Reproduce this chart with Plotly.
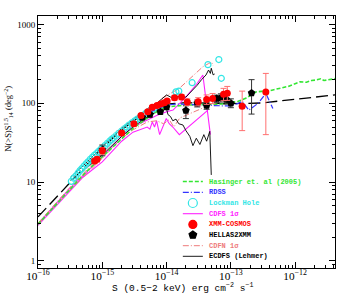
import plotly.graph_objects as go

# ---------------- data ----------------
# Hasinger et al. (2005)
has_flux = [1e-16, 2e-16, 3e-16, 5e-16, 7e-16, 1e-15, 1.5e-15, 2e-15, 3e-15, 4e-15, 5e-15, 7e-15,
            1e-14, 1.5e-14, 2e-14, 3e-14, 5e-14, 7e-14, 1e-13, 1.3e-13, 1.7e-13, 2e-13, 2.5e-13,
            3e-13, 3.5e-13, 4.5e-13, 6e-13, 8e-13, 1e-12, 1.2e-12, 1.5e-12, 1.8e-12, 2.1e-12,
            2.5e-12, 2.8e-12, 3.2e-12, 4.2e-12]
has_val = [2.9, 5.4, 7.8, 12.2, 16, 21, 29, 36, 48, 57, 65, 78, 90, 94, 95, 96, 97, 98, 102, 106,
           116, 125, 140, 142, 141, 148, 155, 165, 178, 188, 185, 195, 198, 205, 195, 200, 206]

# model (black long dashes)
mod_flux = [1e-16, 2e-16, 4e-16, 1e-15, 2e-15, 5e-15, 1e-14, 2e-14, 5e-14, 1e-13, 3e-13, 1e-12,
            1.5e-12, 4.2e-12]
mod_val = [3.6, 6.6, 12.3, 27, 46, 80, 98, 102, 100, 99, 101, 112, 116, 128]

# RDSS
rdss_flux = [4e-15, 6e-15, 1e-14, 1.5e-14, 2e-14, 3e-14, 5e-14, 7e-14, 1e-13, 1.3e-13, 1.5e-13,
             1.9e-13, 2.65e-13, 3.5e-13, 4.5e-13]
rdss_val = [62, 80, 95, 98, 97, 95, 94, 93, 93, 100, 106, 82, 100, 134, 86]

# Lockman Hole
lh_flux = [3.3e-16, 3.6e-16, 3.9e-16, 4.2e-16, 4.5e-16, 4.8e-16, 5.2e-16, 5.6e-16, 6.0e-16,
           6.5e-16, 7.0e-16, 7.5e-16, 8.1e-16, 8.7e-16, 9.4e-16, 1.0e-15, 1.1e-15, 1.2e-15,
           1.3e-15, 1.4e-15, 1.5e-15, 1.65e-15, 1.8e-15, 2.0e-15, 2.2e-15, 2.4e-15, 2.6e-15,
           2.9e-15, 3.2e-15, 3.5e-15, 3.9e-15, 4.3e-15, 4.8e-15, 5.3e-15, 5.9e-15, 6.6e-15,
           7.4e-15, 8.3e-15, 9.3e-15, 1.4e-14, 1.55e-14, 2.5e-14, 4.4e-14, 6.5e-14, 7.1e-14]
lh_val = [10.2, 11.2, 12.0, 13.0, 14.0, 14.8, 15.9, 17.0, 18.0, 19.4, 20.6, 21.8, 23.0, 24.3,
          25.8, 27.0, 29.0, 31.0, 33.0, 34.8, 36.5, 39.0, 41.5, 44.5, 47.5, 50.0, 53.0, 56.5,
          60.0, 63.0, 67.0, 70.5, 75.0, 79.0, 83.0, 87.0, 91.0, 95.0, 99.0, 140, 143, 183, 310,
          360, 208]

# CDFS 1 sigma (two bounds)
cdfs_lo_flux = [1e-16, 2e-16, 5e-16, 1e-15, 2e-15, 3e-15, 4e-15, 5e-15, 5.5e-15, 6e-15, 6.5e-15,
                7e-15, 7.8e-15, 9e-15, 9.9e-15, 1.1e-14, 1.25e-14, 1.58e-14, 4.4e-14]
cdfs_lo_val = [2.8, 5.2, 11.5, 18, 33, 43, 47, 50, 47, 58, 50, 60, 40, 55, 64, 55, 50, 40, 82]
cdfs_hi_flux = [1e-16, 3e-16, 1e-15, 2e-15, 3e-15, 5e-15, 7e-15, 1e-14, 1.26e-14, 2e-14, 3e-14,
                3.67e-14, 4.8e-14]
cdfs_hi_val = [2.95, 8.0, 21, 38, 50, 62, 70, 78, 82, 120, 180, 229, 40]

# XMM-COSMOS (value, upper error, lower error)
cos_flux = [7.6e-16, 8.3e-16, 1.0e-15, 2.0e-15, 3.1e-15, 4.0e-15, 5.1e-15, 6.0e-15, 7.1e-15,
            8.1e-15, 9.2e-15, 1.02e-14, 1.33e-14, 1.71e-14, 2.1e-14, 3.1e-14, 4.2e-14, 5.2e-14,
            7.7e-14, 8.8e-14, 1.5e-13, 3.5e-13]
cos_val = [18.5, 19.4, 25, 42, 55, 70, 78, 89, 94, 98, 102, 107, 118, 120, 104, 105, 112, 115,
           130, 134, 92, 139]
cos_err_hi = [1.5, 1.5, 2.5, 3, 3.5, 4, 4, 5, 5, 5, 6, 6, 8, 9, 10, 13, 16, 18, 25, 30, 51, 101]
cos_err_lo = [1.5, 1.5, 2.5, 3, 3.5, 4, 4, 5, 5, 5, 6, 6, 8, 9, 10, 12, 15, 16, 22, 25, 47, 99]

# HELLAS2XMM
hel_flux = [1.0e-15, 4.2e-15, 5.5e-15, 8e-15, 1.0e-14, 2.0e-14, 3.0e-14, 4.2e-14, 6.0e-14,
            7.0e-14, 8.5e-14, 1.0e-13, 2.1e-13]
hel_val = [25.5, 66, 72, 78, 90, 81, 100, 94, 115, 118, 112, 100, 135]
hel_err_hi = [4, 4, 5, 5, 6, 12, 10, 10, 12, 14, 14, 14, 65]
hel_err_lo = [4, 4, 5, 5, 6, 17, 10, 10, 12, 14, 14, 12, 62]

# CDFN 1 sigma (two bounds)
cdfn_lo_flux = [1e-16, 3e-16, 1e-15, 2e-15, 3e-15, 5e-15, 7e-15, 9e-15, 1.1e-14, 1.3e-14,
                1.6e-14, 2e-14, 3e-14, 4e-14, 5e-14]
cdfn_lo_val = [2.9, 7.6, 20, 36, 46, 58, 60, 55, 62, 50, 65, 70, 80, 90, 98]
cdfn_hi_flux = [1e-16, 3e-16, 1e-15, 2e-15, 5e-15, 8.8e-15, 1.58e-14, 2.5e-14, 3.67e-14, 4.5e-14,
                5e-14, 5.3e-14]
cdfn_hi_val = [3.0, 8.2, 23, 42, 75, 118, 155, 220, 292, 320, 335, 300]

# ECDFS (Lehmer), two bounds
ec_lo_flux = [3.2e-16, 5e-16, 1e-15, 2e-15, 3e-15, 5e-15, 7e-15, 1e-14, 1.05e-14, 1.15e-14,
              1.25e-14, 1.4e-14, 1.55e-14, 1.8e-14, 2e-14, 2.3e-14, 2.57e-14, 2.9e-14, 3.3e-14,
              3.8e-14, 4.2e-14, 4.7e-14, 4.96e-14]
ec_lo_val = [10.5, 14, 22, 38, 50, 67, 78, 85, 72, 68, 60, 63, 55, 53, 45, 38, 29, 36, 30, 40,
             33, 44, 12.3]
ec_hi_flux = [3.2e-16, 5e-16, 1e-15, 2e-15, 3e-15, 5e-15, 7e-15, 9e-15, 1e-14, 1.2e-14, 1.5e-14,
              2e-14, 2.5e-14, 3e-14, 3.5e-14, 4.1e-14, 4.5e-14, 4.8e-14, 4.96e-14, 5.3e-14,
              5.6e-14]
ec_hi_val = [11.5, 16, 28, 48, 62, 85, 100, 118, 128, 118, 122, 120, 145, 170, 200, 229, 265, 240,
             279, 230, 236]

legend_labels = ["Hasinger et. al (2005)", "RDSS", "Lockman Hole", "CDFS 1\u03c3", "XMM-COSMOS",
                 "HELLAS2XMM", "CDFN 1\u03c3", "ECDFS (Lehmer)"]

# ---------------- styles ----------------
GREEN = "#33e633"
BLUE = "#3333ff"
CYAN = "#33e6e6"
MAGENTA = "#ff22ff"
RED = "#ff0000"
SALMON = "#ee7b7b"
BLACK = "#000000"

# plot area in pixels (354 x 300 canvas)
PL, PR, PT, PB = 38.33, 335.0, 16.0, 268.0


def px_x(p):
    return (p - PL) / (PR - PL)


def px_y(p):
    return (PB - p) / (PB - PT)


fig = go.Figure()


def line(x, y, color, dash="solid", width=1.0):
    fig.add_trace(go.Scatter(x=x, y=y, mode="lines", showlegend=False, hoverinfo="skip",
                             line=dict(color=color, dash=dash, width=width)))


line(mod_flux, mod_val, BLACK, "12px,5px", 1.3)
line(cdfs_lo_flux, cdfs_lo_val, MAGENTA, width=1.1)
line(cdfs_hi_flux, cdfs_hi_val, MAGENTA, width=1.1)
line(cdfn_lo_flux, cdfn_lo_val, SALMON, "6px,2px,1px,2px", 1.0)
line(cdfn_hi_flux, cdfn_hi_val, SALMON, "6px,2px,1px,2px", 1.0)
line(ec_lo_flux, ec_lo_val, BLACK, width=0.9)
line(ec_hi_flux, ec_hi_val, BLACK, width=0.9)
fig.add_trace(go.Scatter(x=lh_flux, y=lh_val, mode="markers", showlegend=False,
                         marker=dict(symbol="circle-open", size=6, color=CYAN,
                                     line=dict(width=1.2, color=CYAN))))
line(has_flux, has_val, GREEN, "4px,2px", 1.6)
line(rdss_flux, rdss_val, BLUE, "6px,2px,1px,2px", 1.2)

fig.add_trace(go.Scatter(x=hel_flux, y=hel_val, mode="markers", showlegend=False,
                         marker=dict(symbol="pentagon", size=8, color=BLACK),
                         error_y=dict(type="data", array=hel_err_hi, arrayminus=hel_err_lo,
                                      color="#333333", thickness=1, width=3)))
fig.add_trace(go.Scatter(x=cos_flux, y=cos_val, mode="markers", showlegend=False,
                         marker=dict(symbol="circle", size=7, color=RED),
                         error_y=dict(type="data", array=cos_err_hi, arrayminus=cos_err_lo,
                                      color="#ff7070", thickness=1, width=3)))

# ---------------- manual legend (overlay axes in pixel units) ----------------
leg_colors = [GREEN, BLUE, CYAN, MAGENTA, RED, BLACK, SALMON, BLACK]
leg_y = [181.5, 192.3, 203.0, 213.7, 224.4, 235.0, 245.7, 256.3]
x0, x1, xt = 183, 203, 207
xm = (x0 + x1) / 2


def leg_line(yy, color, dash, width):
    fig.add_trace(go.Scatter(x=[x0, x1], y=[yy, yy], xaxis="x2", yaxis="y2", mode="lines",
                             showlegend=False, hoverinfo="skip",
                             line=dict(color=color, dash=dash, width=width)))


def leg_marker(yy, symbol, size, color):
    fig.add_trace(go.Scatter(x=[xm], y=[yy], xaxis="x2", yaxis="y2", mode="markers",
                             showlegend=False, hoverinfo="skip",
                             marker=dict(symbol=symbol, size=size, color=color,
                                         line=dict(width=1.2, color=color))))


leg_line(leg_y[0], GREEN, "4px,2px", 1.6)
leg_line(leg_y[1], BLUE, "6px,2px,1px,2px", 1.2)
leg_marker(leg_y[2], "circle-open", 9, CYAN)
leg_line(leg_y[3], MAGENTA, "solid", 1.1)
leg_marker(leg_y[4], "circle", 8, RED)
leg_marker(leg_y[5], "pentagon", 8, BLACK)
leg_line(leg_y[6], SALMON, "6px,2px,1px,2px", 1.0)
leg_line(leg_y[7], BLACK, "solid", 0.9)

annotations = []
for lab, col, yy in zip(legend_labels, leg_colors, leg_y):
    annotations.append(dict(x=px_x(xt), y=px_y(yy), xref="paper", yref="paper",
                            text="<b>" + lab + "</b>", showarrow=False,
                            xanchor="left", yanchor="middle",
                            font=dict(family="Liberation Mono", size=7, color=col)))

# axis titles
annotations.append(dict(x=px_x(183), y=px_y(287), xref="paper", yref="paper", showarrow=False,
                        text="S (0.5\u22122 keV) erg cm<sup>\u22122</sup> s<sup>\u22121</sup>",
                        xanchor="center", yanchor="middle",
                        font=dict(family="Liberation Mono", size=9.5, color="black")))
annotations.append(dict(x=px_x(8), y=px_y(119), xref="paper", yref="paper", showarrow=False,
                        textangle=-90,
                        text="N(>S)S<sup>1.5</sup><sub>14</sub> (deg<sup>\u22122</sup>)",
                        xanchor="center", yanchor="middle",
                        font=dict(family="Liberation Serif", size=8.5, color="black")))

axis_common = dict(showgrid=False, zeroline=False, showline=True, linecolor="black", linewidth=1,
                   mirror="allticks", ticks="inside", ticklen=6, tickcolor="black", tickwidth=1,
                   automargin=False,
                   minor=dict(ticks="inside", ticklen=3, tickcolor="black", tickwidth=1,
                              showgrid=False),
                   tickfont=dict(family="Liberation Serif", size=9, color="black"))

fig.update_layout(
    width=354, height=300,
    margin=dict(l=38, r=19, t=16, b=32, autoexpand=False),
    paper_bgcolor="white", plot_bgcolor="white",
    showlegend=False,
    hovermode=False,
    xaxis=dict(type="log", range=[-16, -11.38], dtick=1, exponentformat="power",
               ticklabelstandoff=-2, **axis_common),
    yaxis=dict(type="log", range=[-0.093, 3.11], dtick=1, exponentformat="none", **axis_common),
    xaxis2=dict(overlaying="x", range=[PL, PR], visible=False, automargin=False),
    yaxis2=dict(overlaying="y", range=[PB, PT], visible=False, automargin=False),
    annotations=annotations,
)

fig.write_html("out.html",
               config={"displayModeBar": False, "staticPlot": True},
               post_script="document.body.style.margin='0px';"
                           "document.body.style.overflow='hidden';")
